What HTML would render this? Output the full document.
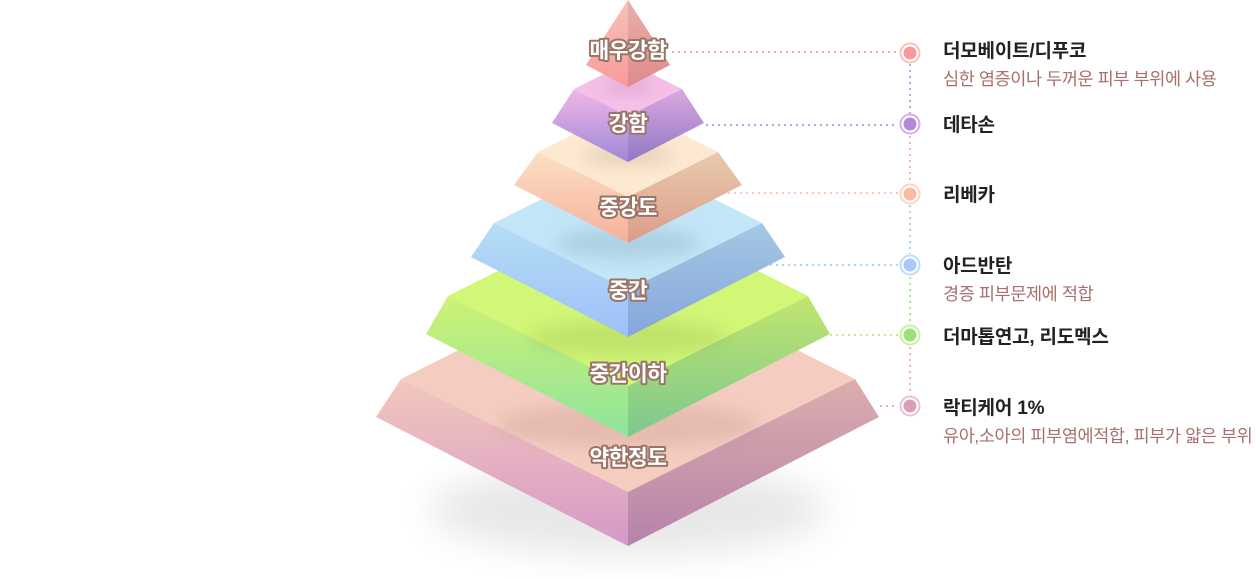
<!DOCTYPE html>
<html><head><meta charset="utf-8"><style>
html,body{margin:0;padding:0;background:#fff;width:1257px;height:579px;overflow:hidden}
svg{display:block}
.lbl{font-family:"Liberation Sans","Noto Sans CJK KR",sans-serif;font-weight:700;font-size:21.5px;fill:#fff;stroke:#9b7468;stroke-width:4px;paint-order:stroke;stroke-linejoin:round;text-anchor:middle;letter-spacing:-0.5px}
.t{font-family:"Liberation Sans","Noto Sans CJK KR",sans-serif;font-weight:700;font-size:19px;fill:#222;letter-spacing:-0.2px}
.s{font-family:"Liberation Sans","Noto Sans CJK KR",sans-serif;font-size:17.5px;fill:#a8706c;letter-spacing:-0.4px}
</style></head><body>
<svg width="1257" height="579" viewBox="0 0 1257 579" xmlns="http://www.w3.org/2000/svg">
<defs>
<filter id="b1" x="-50%" y="-50%" width="200%" height="200%"><feGaussianBlur stdDeviation="18"/></filter>
<filter id="b2" x="-50%" y="-50%" width="200%" height="200%"><feGaussianBlur stdDeviation="8"/></filter>
<linearGradient id="L1" x1="0" y1="0" x2="0" y2="1"><stop offset="0" stop-color="#f7c2b8"/><stop offset="1" stop-color="#fa9a9c"/></linearGradient>
<linearGradient id="R1" x1="0" y1="0" x2="0" y2="1"><stop offset="0" stop-color="#e8b0a8"/><stop offset="1" stop-color="#df8a8e"/></linearGradient>
<linearGradient id="L2" x1="0" y1="0" x2="0" y2="1"><stop offset="0" stop-color="#f2b6e6"/><stop offset="1" stop-color="#9c88d6"/></linearGradient>
<linearGradient id="R2" x1="0" y1="0" x2="0" y2="1"><stop offset="0" stop-color="#dca8e0"/><stop offset="1" stop-color="#8e78c4"/></linearGradient>
<linearGradient id="L3" x1="0" y1="0" x2="0" y2="1"><stop offset="0" stop-color="#fbe0c4"/><stop offset="1" stop-color="#f7b09a"/></linearGradient>
<linearGradient id="R3" x1="0" y1="0" x2="0" y2="1"><stop offset="0" stop-color="#e8cbac"/><stop offset="1" stop-color="#dc9c8a"/></linearGradient>
<linearGradient id="L4" x1="0" y1="0" x2="0" y2="1"><stop offset="0" stop-color="#b4def4"/><stop offset="1" stop-color="#9ec0fa"/></linearGradient>
<linearGradient id="R4" x1="0" y1="0" x2="0" y2="1"><stop offset="0" stop-color="#a4c8e4"/><stop offset="1" stop-color="#86a6dc"/></linearGradient>
<linearGradient id="L5" x1="0" y1="0" x2="0" y2="1"><stop offset="0" stop-color="#cff274"/><stop offset="1" stop-color="#8ee49c"/></linearGradient>
<linearGradient id="R5" x1="0" y1="0" x2="0" y2="1"><stop offset="0" stop-color="#c2e66e"/><stop offset="1" stop-color="#7cc88e"/></linearGradient>
<linearGradient id="L6" x1="0" y1="0" x2="0" y2="1"><stop offset="0" stop-color="#f3c8bc"/><stop offset="1" stop-color="#d698c8"/></linearGradient>
<linearGradient id="R6" x1="0" y1="0" x2="0" y2="1"><stop offset="0" stop-color="#dcaeac"/><stop offset="1" stop-color="#b682ac"/></linearGradient>
</defs>

<ellipse cx="628" cy="510" rx="200" ry="45" fill="#000" opacity="0.09" filter="url(#b1)"/>

<polygon points="401,379 628,265 855,379 628,492" fill="#f5cdc0"/>
<polygon points="401,379 376,417 628,546 628,492" fill="url(#L6)"/>
<polygon points="855,379 879,417 628,546 628,492" fill="url(#R6)"/>
<ellipse cx="628" cy="425" rx="130" ry="22" fill="#7a4a40" opacity="0.13" filter="url(#b2)"/>

<polygon points="448,296 628,206 808,296 628,386" fill="#d2f676"/>
<polygon points="448,296 426,334 628,437 628,386" fill="url(#L5)"/>
<polygon points="808,296 830,334 628,437 628,386" fill="url(#R5)"/>
<ellipse cx="628" cy="338" rx="100" ry="18" fill="#4a6a20" opacity="0.13" filter="url(#b2)"/>

<polygon points="494,223 628,156 762,223 628,290" fill="#c2e6f7"/>
<polygon points="494,223 471,257 628,337 628,290" fill="url(#L4)"/>
<polygon points="762,223 785,257 628,337 628,290" fill="url(#R4)"/>
<ellipse cx="628" cy="243" rx="72" ry="15" fill="#305070" opacity="0.14" filter="url(#b2)"/>

<polygon points="538,152 628,107 718,152 628,197" fill="#fde9d2"/>
<polygon points="538,152 514,185 628,243 628,197" fill="url(#L3)"/>
<polygon points="718,152 742,185 628,243 628,197" fill="url(#R3)"/>
<ellipse cx="628" cy="155" rx="45" ry="11" fill="#806040" opacity="0.16" filter="url(#b2)"/>

<polygon points="574,89 628,62 682,89 628,116" fill="#f5bfe8"/>
<polygon points="574,89 552,123 628,162 628,116" fill="url(#L2)"/>
<polygon points="682,89 704,123 628,162 628,116" fill="url(#R2)"/>
<ellipse cx="628" cy="86" rx="26" ry="7" fill="#704070" opacity="0.16" filter="url(#b2)"/>

<polygon points="628,0 586,65 628,87" fill="url(#L1)"/>
<polygon points="628,0 670,65 628,87" fill="url(#R1)"/>

<text class="lbl" x="628" y="58">매우강함</text>
<text class="lbl" x="628" y="131">강함</text>
<text class="lbl" x="628" y="215">중강도</text>
<text class="lbl" x="628" y="298">중간</text>
<text class="lbl" x="628" y="381">중간이하</text>
<text class="lbl" x="628" y="465">약한정도</text>

<g stroke-width="2" stroke-dasharray="2 4" fill="none">
<line x1="672" y1="52" x2="898" y2="52" stroke="#f8a8a8"/>
<line x1="706" y1="125" x2="898" y2="125" stroke="#c89ae0"/>
<line x1="728" y1="193" x2="898" y2="193" stroke="#fcc8b0"/>
<line x1="770" y1="265" x2="898" y2="265" stroke="#a8d4f8"/>
<line x1="830" y1="335" x2="898" y2="335" stroke="#bcf080"/>
<line x1="880" y1="406" x2="898" y2="406" stroke="#f0b0b0"/>
<line x1="910" y1="64" x2="910" y2="114" stroke="#c8a0e0"/>
<line x1="910" y1="136" x2="910" y2="182" stroke="#f0b8b0"/>
<line x1="910" y1="205" x2="910" y2="254" stroke="#b0d0f0"/>
<line x1="910" y1="277" x2="910" y2="324" stroke="#a8e898"/>
<line x1="910" y1="347" x2="910" y2="395" stroke="#e8b0c0"/>
</g>

<g>
<circle cx="910" cy="53" r="9.5" fill="#fff" stroke="#fcc0bc" stroke-width="2"/><circle cx="910" cy="53" r="6.5" fill="#f89a9a"/>
<circle cx="910" cy="124" r="9.5" fill="#fff" stroke="#d4b0ec" stroke-width="2"/><circle cx="910" cy="124" r="6.5" fill="#b08ad8"/>
<circle cx="910" cy="194" r="9.5" fill="#fff" stroke="#fcd4c0" stroke-width="2"/><circle cx="910" cy="194" r="6.5" fill="#f8bca0"/>
<circle cx="910" cy="265" r="9.5" fill="#fff" stroke="#bcdcfa" stroke-width="2"/><circle cx="910" cy="265" r="6.5" fill="#a8c8f8"/>
<circle cx="910" cy="335" r="9.5" fill="#fff" stroke="#c8f0a0" stroke-width="2"/><circle cx="910" cy="335" r="6.5" fill="#98e078"/>
<circle cx="910" cy="406" r="9.5" fill="#fff" stroke="#ecc0d0" stroke-width="2"/><circle cx="910" cy="406" r="6.5" fill="#d8a0b8"/>
</g>

<text class="t" x="943" y="57">더모베이트/디푸코</text>
<text class="s" x="943" y="85">심한 염증이나 두꺼운 피부 부위에 사용</text>
<text class="t" x="943" y="131">데타손</text>
<text class="t" x="943" y="201">리베카</text>
<text class="t" x="943" y="272">아드반탄</text>
<text class="s" x="943" y="300">경증 피부문제에 적합</text>
<text class="t" x="943" y="343">더마톱연고, 리도멕스</text>
<text class="t" x="943" y="414">락티케어 1%</text>
<text class="s" x="943" y="442">유아,소아의 피부염에적합, 피부가 얇은 부위</text>
</svg>
</body></html>
